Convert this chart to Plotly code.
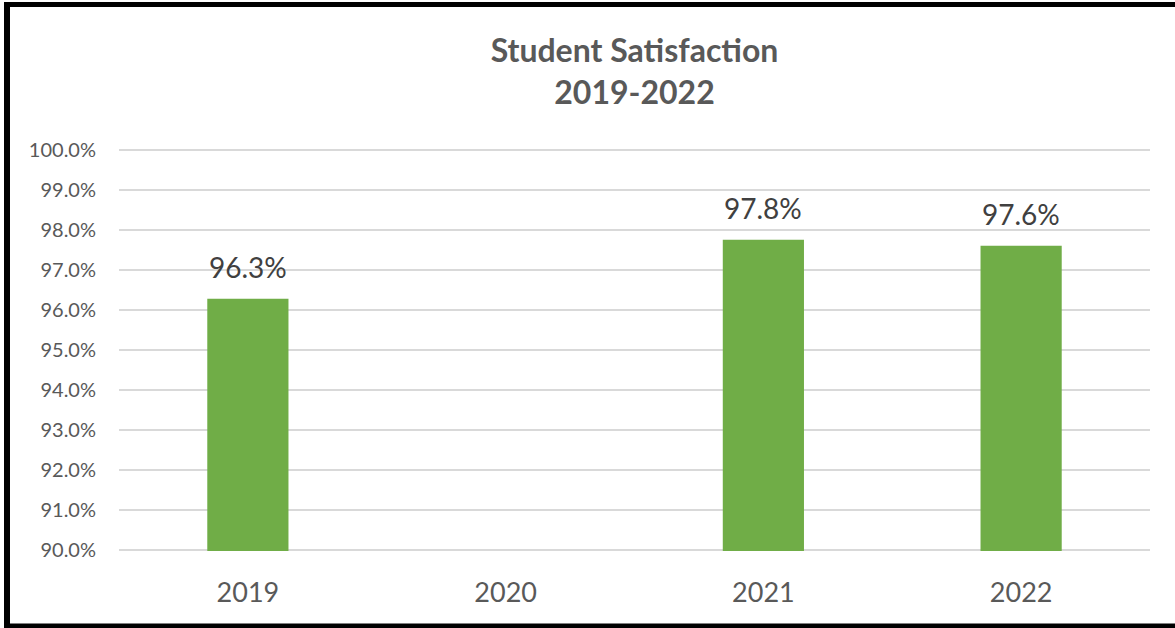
import plotly.graph_objects as go

years = ["2019", "2020", "2021", "2022"]
satisfaction = [96.28, None, 97.76, 97.61]
y_ticks = [90, 91, 92, 93, 94, 95, 96, 97, 98, 99, 100]
y_tick_labels = [f"{v:.1f}%" for v in y_ticks]

W, H = 1175, 628
L, R, T, B = 119, 25, 149, 77
pw, ph = W - L - R, H - T - B

def px(x):
    return (x - L) / pw

def py(y):
    return (H - B - y) / ph

fig = go.Figure()
fig.add_trace(go.Bar(
    x=years, y=satisfaction,
    marker=dict(color="#70AD47", line=dict(width=0)),
    width=0.315,
    hoverinfo="skip",
))

for i, v in enumerate(satisfaction):
    if v is None:
        continue
    fig.add_annotation(
        x=i, y=v, xref="x", yref="y",
        text=f"{v:.1f}%", showarrow=False,
        yanchor="bottom", yshift=13,
        font=dict(size=28, color="#404040", family="Lato"),
    )

fig.update_layout(
    width=W, height=H,
    margin=dict(l=L, r=R, t=T, b=B),
    paper_bgcolor="white", plot_bgcolor="white",
    font=dict(family="Lato", color="#595959"),
    title=dict(
        text="<b>Student Satisfaction<br>2019-2022</b>",
        x=0.5, xanchor="center", xref="paper",
        y=1 - 62 / H, yanchor="top", yref="container",
        font=dict(size=32, color="#595959", family="Lato"),
    ),
    showlegend=False,
)
fig.update_yaxes(
    range=[89.97, 100.03], tickmode="array", tickvals=y_ticks, ticktext=y_tick_labels,
    showgrid=True, gridcolor="#D9D9D9", gridwidth=1.5,
    zeroline=False, showline=False,
    tickfont=dict(size=20, color="#595959"), ticks="",
    ticklabelstandoff=22, automargin=False,
)
fig.update_xaxes(
    type="category", categoryorder="array", categoryarray=years,
    range=[-0.5, len(years) - 0.5],
    showgrid=False, showline=False, zeroline=False,
    tickfont=dict(size=27, color="#595959"), ticks="",
    ticklabelstandoff=23, automargin=False,
)

fig.add_shape(type="line", xref="paper", yref="paper",
              x0=px(7), x1=px(7), y0=py(2), y1=py(628), line=dict(color="black", width=6))
fig.add_shape(type="line", xref="paper", yref="paper",
              x0=px(4), x1=px(1180), y0=py(4.5), y1=py(4.5), line=dict(color="black", width=5))
fig.add_shape(type="line", xref="paper", yref="paper",
              x0=px(4), x1=px(1180), y0=py(626), y1=py(626), line=dict(color="black", width=5))

fig.write_html(
    "out.html",
    config={"displayModeBar": False},
    post_script="document.body.style.margin='0px';document.body.style.overflow='hidden';",
)
